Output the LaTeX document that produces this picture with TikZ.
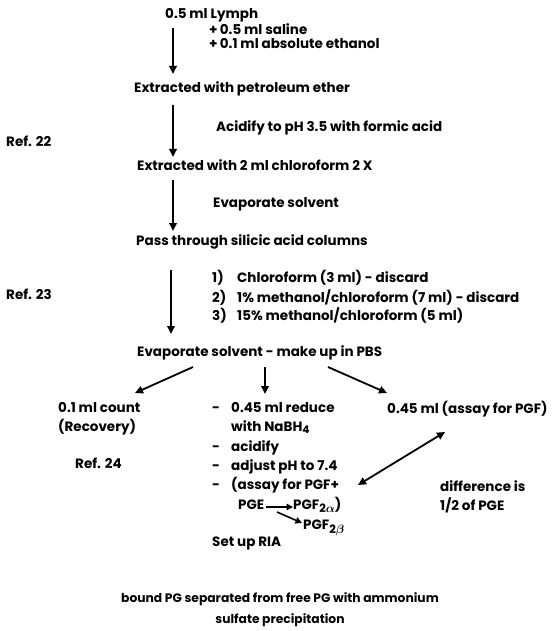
\documentclass[tikz,border=0pt]{standalone}
\usepackage{fontspec}
\setmainfont{Poppins}
\usetikzlibrary{arrows.meta}
\begin{document}
\begin{tikzpicture}[x=1pt,y=-1pt,
  txt/.style={anchor=west,inner sep=0pt,text height=10pt,text depth=3pt,font=\fontsize{13.5}{15}\selectfont\bfseries},
  ctxt/.style={txt,anchor=center,font=\fontsize{12.3}{14}\selectfont\bfseries},
  arr/.style={line width=1.8pt,-{Triangle[length=8pt,width=7.5pt]}},
  darr/.style={line width=1.8pt,{Triangle[length=8pt,width=7.5pt]}-{Triangle[length=8pt,width=7.5pt]}},
  sarr/.style={line width=1.6pt,-{Triangle[length=6.5pt,width=6.5pt]}}]
\useasboundingbox (0,0) rectangle (557,631);
% top column
\node[txt] (lymph) at (165,15) {0.5 ml Lymph};
\node[txt] (saline) at (209,31) {+\,0.5 ml saline};
\node[txt] (ethanol) at (209,45) {+\,0.1 ml absolute ethanol};
\node[txt] (pet) at (134,89) {Extracted with petroleum ether};
\node[txt] (acid) at (216,128) {Acidify to pH 3.5 with formic acid};
\node[txt] (ref22) at (6,143) {Ref. 22};
\node[txt] (chl) at (137,167) {Extracted with 2 ml chloroform 2 X};
\node[txt] (evap) at (213,204) {Evaporate solvent};
\node[txt] (pass) at (136,242) {Pass through silicic acid columns};
\node[txt] (l1) at (212,279) {\makebox[25pt][l]{1)}Chloroform (3 ml) - discard};
\node[txt] (l2) at (212,299) {\makebox[25pt][l]{2)}1\% methanol/chloroform (7 ml) - discard};
\node[txt] (l3) at (212,317) {\makebox[25pt][l]{3)}15\% methanol/chloroform (5 ml)};
\node[txt] (ref23) at (6,296) {Ref. 23};
\node[txt] (evap2) at (137,353) {Evaporate solvent - make up in PBS};
% arrow end points
\coordinate (a1s) at (173,28);  \coordinate (a1e) at (173,74);
\coordinate (a2s) at (173,105); \coordinate (a2e) at (173,157);
\coordinate (a3s) at (173,180); \coordinate (a3e) at (173,231);
\coordinate (a4s) at (171,270); \coordinate (a4e) at (171,334);
\draw[arr] (a1s) -- (a1e);
\draw[arr] (a2s) -- (a2e);
\draw[arr] (a3s) -- (a3e);
\draw[arr] (a4s) -- (a4e);
% branches
\coordinate (bl) at (193,367); \coordinate (bm) at (265,367); \coordinate (br) at (328,367);
\node[txt] (count) at (58,409) {0.1 ml count};
\node[txt] (recov) at (58,428) {(Recovery)};
\node[txt] (ref24) at (75,465) {Ref. 24};
\node[txt] (m1) at (212,409) {\makebox[19pt][l]{-}0.45 ml reduce};
\node[txt] (m2) at (231,428) {with NaBH\raisebox{-2pt}{\fontsize{10.5}{11}\selectfont 4}};
\node[txt] (m3) at (212,448) {\makebox[19pt][l]{-}acidify};
\node[txt] (m4) at (212,467) {\makebox[19pt][l]{-}adjust pH to 7.4};
\node[txt] (m5) at (212,486) {\makebox[19pt][l]{-}(assay for PGF+};
\node[txt] (pge) at (238,506) {PGE};
\node[txt] (pgfa) at (293,506) {PGF\raisebox{-3pt}{\fontsize{11.5}{12}\selectfont 2{\boldmath$\alpha$}})};
\node[txt] (pgfb) at (303,526) {PGF\raisebox{-4pt}{\fontsize{11.5}{12}\selectfont 2{\boldmath$\beta$}}};
\node[txt] (ria) at (212,543) {Set up RIA};
\node[txt] (pgf) at (387,410) {0.45 ml (assay for PGF)};
\node[txt] (diff1) at (440,488) {difference is};
\node[txt] (diff2) at (440,507) {1/2 of PGE};
\coordinate (cl) at (135,393); \coordinate (cm) at (265,394); \coordinate (cr) at (387,393);
\draw[arr] (bl) -- (cl);
\draw[arr] (bm) -- (cm);
\draw[arr] (br) -- (cr);
\draw[sarr] (pge.east) ++(2,1) coordinate (p1) -- (pgfa.west |- p1);
\coordinate (p2s) at (277,512); \coordinate (p2e) at (302,523);
\draw[sarr] (p2s) -- (p2e);
\coordinate (dA) at (358,485); \coordinate (dB) at (445,432);
\draw[darr] (dA) -- (dB);
\node[ctxt] (b1) at (280,599) {bound PG separated from free PG with ammonium};
\node[ctxt] (b2) at (280,620) {sulfate precipitation};
\end{tikzpicture}
\end{document}
